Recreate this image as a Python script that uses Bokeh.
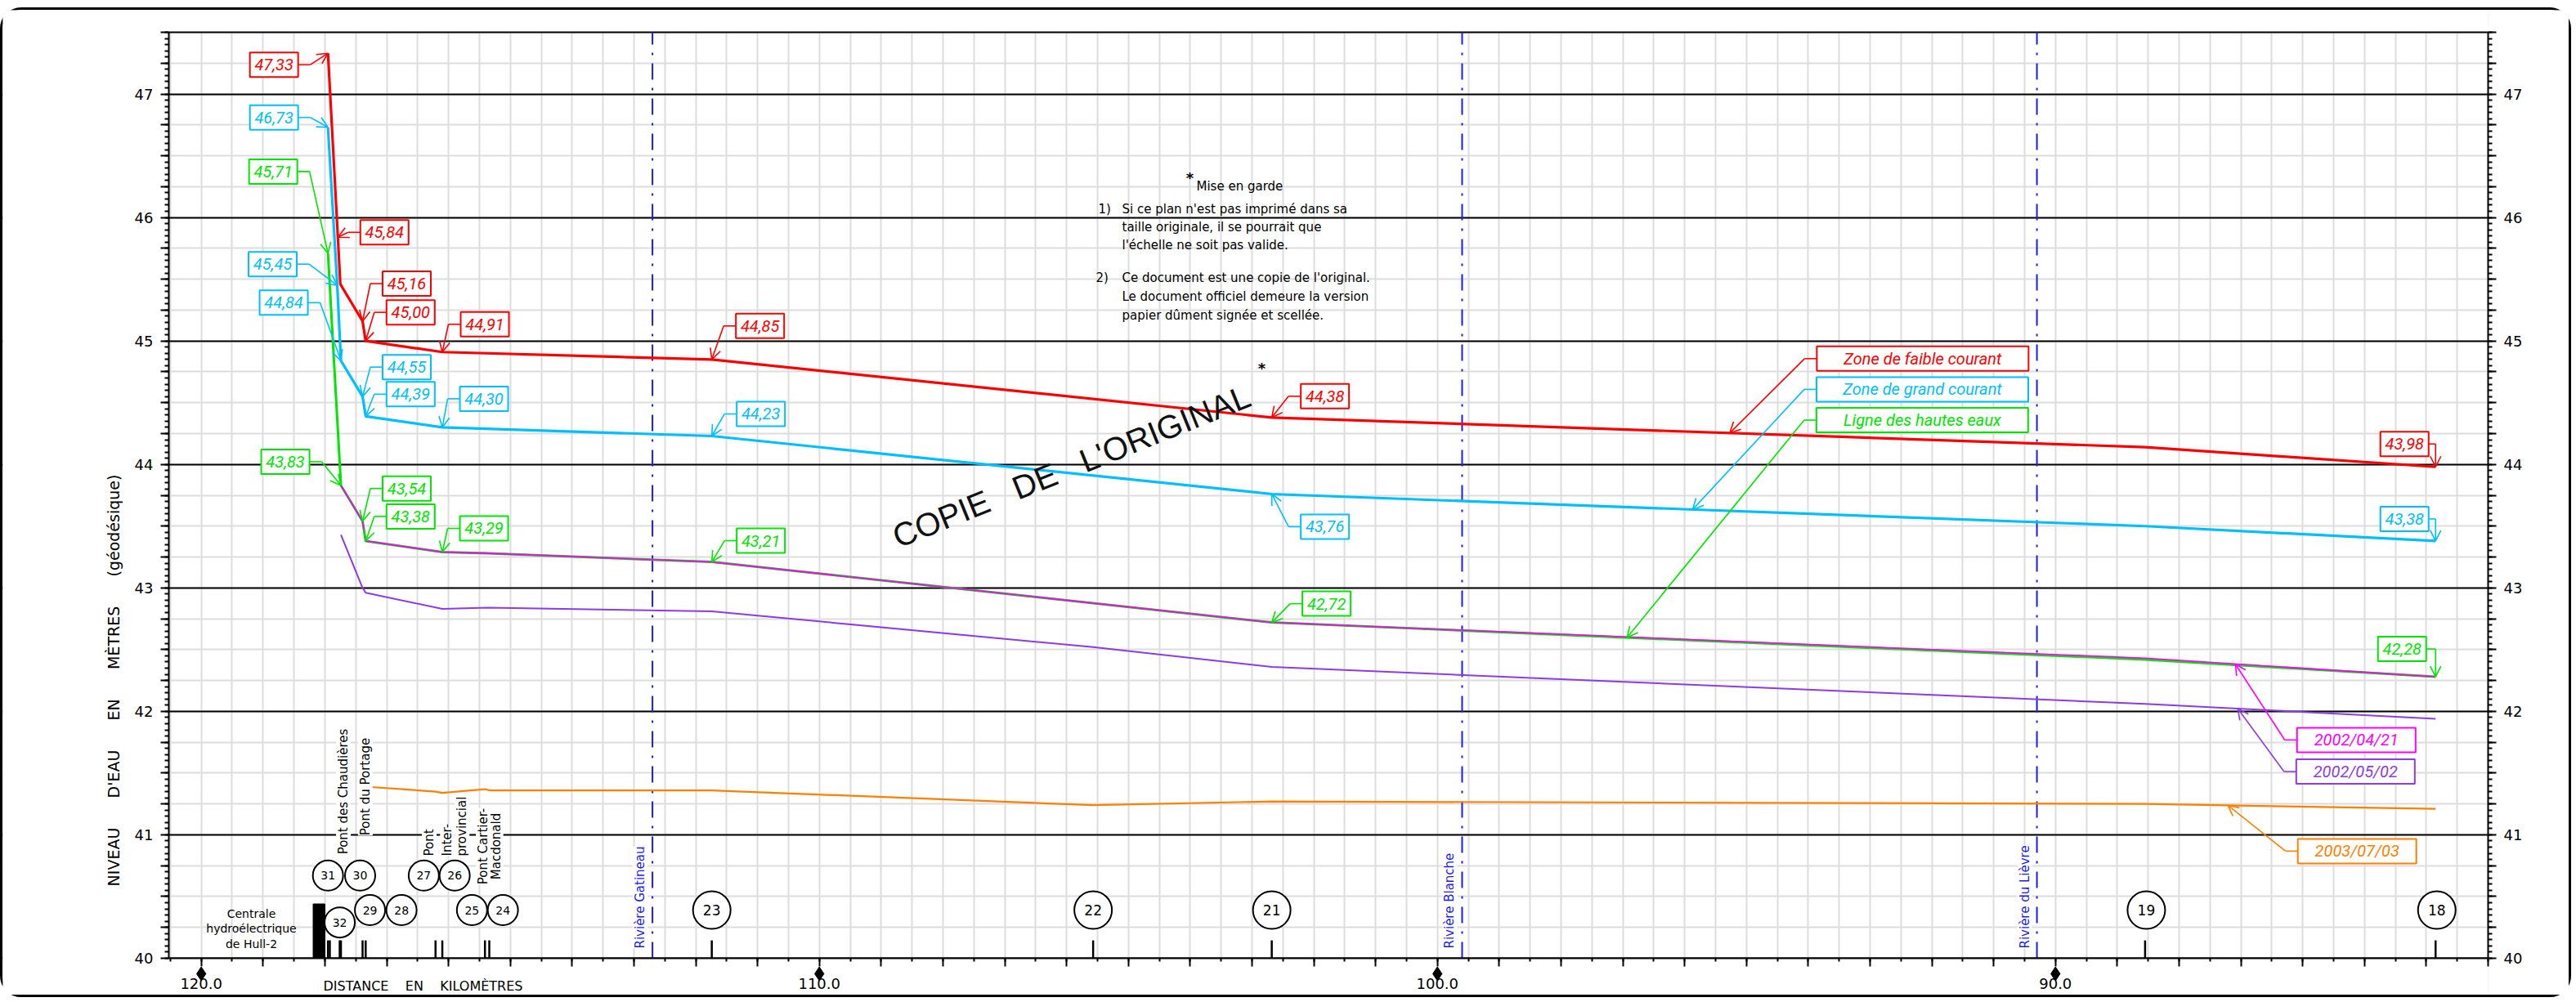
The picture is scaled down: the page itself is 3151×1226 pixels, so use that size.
import math
import numpy as np
from bokeh.plotting import figure
from bokeh.models import (Range1d, LinearAxis, SingleIntervalTicker, CustomJSTickFormatter,
                          ColumnDataSource, Arrow, OpenHead)
from bokeh.core.properties import value
from bokeh.embed import file_html
from bokeh.resources import INLINE

# ---------------- DATA ----------------
# chainage (km) and water level (m, geodetic)
red_km = [117.95, 117.79, 117.75, 117.39, 117.34, 116.10, 111.74, 102.68, 88.55, 83.85]
red_lvl = [47.33, 45.84, 45.46, 45.16, 45.00, 44.91, 44.85, 44.38, 44.14, 43.98]
blue_km = [117.95, 117.80, 117.74, 117.39, 117.34, 116.10, 111.74, 102.68, 88.55, 83.85]
blue_lvl = [46.73, 45.45, 44.84, 44.55, 44.39, 44.30, 44.23, 43.76, 43.50, 43.38]
green_km = [117.95, 117.74, 117.39, 117.34, 116.10, 115.36, 111.74, 102.68, 88.55, 83.85]
green_lvl = [45.71, 43.83, 43.54, 43.38, 43.29, 43.28, 43.21, 42.72, 42.42, 42.28]
mag_km = [117.74, 117.39, 117.34, 116.10, 115.36, 111.74, 102.68, 88.55, 83.85]
mag_lvl = [43.83, 43.54, 43.38, 43.29, 43.28, 43.21, 42.72, 42.43, 42.28]
pur_km = [117.74, 117.39, 117.34, 116.10, 115.36, 111.74, 105.57, 102.68, 88.55, 83.85]
pur_lvl = [43.43, 43.00, 42.96, 42.83, 42.84, 42.81, 42.52, 42.36, 42.06, 41.94]
ora_km = [117.34, 116.21, 116.10, 115.41, 115.34, 111.74, 105.57, 102.68, 88.55, 83.85]
ora_lvl = [41.39, 41.35, 41.34, 41.37, 41.36, 41.36, 41.24, 41.27, 41.25, 41.21]

station_tick_km = [117.95, 117.92, 117.76, 117.74, 117.39, 117.34, 116.21, 116.10,
                   115.41, 115.34, 111.74, 105.57, 102.68, 88.55, 83.85]
circle_ids = ["31", "30", "27", "26", "32", "29", "28", "25", "24", "23", "22", "21", "19", "18"]
circle_km = [117.95, 117.43, 116.40, 115.90, 117.76, 117.27, 116.76, 115.62, 115.12,
             111.74, 105.57, 102.68, 88.53, 83.83]
circle_lvl = [40.67, 40.67, 40.67, 40.67, 40.29, 40.39, 40.39, 40.39, 40.39,
              40.39, 40.39, 40.39, 40.39, 40.39]
centrale_km = [118.19, 118.00]
centrale_top = 40.44
river_names = ["Rivière Gatineau", "Rivière Blanche", "Rivière du Lièvre"]
river_km = [112.70, 99.60, 90.30]
km_labels = [120, 110, 100, 90]

# ---------------- LAYOUT ----------------
X0, X1 = 120.525, 83.0          # chart extent (km)
Y0, Y1 = 40.0, 47.5             # chart extent (m)
REF_L, REF_R, REF_T, REF_B = 206, 3043, 39, 1172   # chart box in page pixels
ORGX, ORGY = 3, 12              # canvas origin on the page
W, H = 3145, 1211
PXKM = (X1 - X0) / (REF_R - REF_L)
PXLV = (Y1 - Y0) / (REF_B - REF_T)
NB = "\u00a0"


def px2km(px):
    return X0 + (px - REF_L) * PXKM


def py2lvl(py):
    return Y1 - (py - REF_T) * PXLV


def off(k, l, dx, dy):
    return k + dx * PXKM, l - dy * PXLV


def sp(s, n):
    return s.replace(" ", NB * n)


XL, XR = px2km(ORGX), px2km(ORGX + W)
YT, YB = py2lvl(ORGY), py2lvl(ORGY + H)

RED, BLUE, GREEN, MAG, PUR, ORA = "#ff0000", "#00bfff", "#00e600", "#ff00ff", "#8c3ce6", "#ff8000"
RIVER = "#1a1aff"
FONT = "DejaVu Sans"
IFONT = "Roboto"

series = {
    "red": (red_km, red_lvl, RED, 3.2),
    "blue": (blue_km, blue_lvl, BLUE, 3.2),
    "green": (green_km, green_lvl, GREEN, 3.0),
    "mag": (mag_km, mag_lvl, MAG, 1.8),
    "pur": (pur_km, pur_lvl, PUR, 2.0),
    "ora": (ora_km, ora_lvl, ORA, 2.2),
}

p = figure(width=W, height=H, x_range=Range1d(XL, XR), y_range=Range1d(YB, YT),
           output_backend="svg", toolbar_location=None, min_border=0,
           background_fill_color="white", border_fill_color="white",
           styles={"border": "3px solid black", "border-radius": "26px", "margin-top": "9px"})
p.outline_line_color = None

# grids
p.xgrid.ticker = SingleIntervalTicker(interval=0.5, num_minor_ticks=0)
p.xgrid.grid_line_color = "#dddddd"
p.xgrid.grid_line_width = 2
p.ygrid.ticker = SingleIntervalTicker(interval=1, num_minor_ticks=4)
p.ygrid.grid_line_color = "black"
p.ygrid.grid_line_width = 2
p.ygrid.minor_grid_line_color = "#dddddd"
p.ygrid.minor_grid_line_width = 2

# axes (placed at fixed data locations around the chart box)
xa = p.xaxis[0]
xa.fixed_location = Y0
xa.bounds = (X1, X0)
xa.ticker = SingleIntervalTicker(interval=1, num_minor_ticks=2)
xa.formatter = CustomJSTickFormatter(code="""
var r = Math.round(tick);
return (Math.abs(tick - r) < 1e-6 && r % 10 == 0) ? r.toFixed(1) : '';
""")
xa.major_tick_out = 10
xa.major_tick_in = 0
xa.minor_tick_out = 4
xa.minor_tick_in = 0
xa.major_label_standoff = 14
xa.major_label_text_font = FONT
xa.major_label_text_font_size = "18px"
xa.major_label_text_color = "black"

ya_ticker = SingleIntervalTicker(interval=0.25, num_minor_ticks=5)
ya_fmt = CustomJSTickFormatter(code="""
var r = Math.round(tick);
return (Math.abs(tick - r) < 1e-6) ? r.toFixed(0) : '';
""")
p.yaxis[0].fixed_location = X0
p.add_layout(LinearAxis(fixed_location=X1), "right")
for ax in [xa] + list(p.yaxis):
    ax.axis_line_color = "black"
    ax.axis_line_width = 2
    ax.major_tick_line_color = "black"
    ax.minor_tick_line_color = "black"
    ax.major_tick_line_width = 2
    ax.minor_tick_line_width = 2
for ax in p.yaxis:
    ax.bounds = (Y0, Y1)
    ax.ticker = ya_ticker
    ax.formatter = ya_fmt
    ax.major_tick_out = 10
    ax.major_tick_in = 0
    ax.minor_tick_out = 5
    ax.minor_tick_in = 0
    ax.major_label_standoff = 9
    ax.major_label_text_font = FONT
    ax.major_label_text_font_size = "18px"
    ax.major_label_text_color = "black"

# white margins around the chart box (hide grid outside)
p.quad(left=[XL, X1, X0, X0], right=[X0, XR, X1, X1],
       bottom=[YB, YB, YB, Y1 + 0.003], top=[YT, YT, Y0 - 0.003, YT],
       fill_color="white", line_color=None)
p.segment(x0=[X0], y0=[Y1], x1=[X1], y1=[Y1], line_color="black", line_width=2)

# axis titles and km diamonds
p.text(x=[px2km(138)], y=[py2lvl(832)],
       text=[sp("NIVEAU D'EAU EN MÈTRES (géodésique)", 6)],
       angle=math.pi / 2, text_align="center", text_baseline="middle",
       text_font=value(FONT), text_font_size="19px", text_color="black")
p.text(x=[px2km(517)], y=[py2lvl(1206)], text=[sp("DISTANCE EN KILOMÈTRES", 4)],
       text_align="center", text_baseline="middle",
       text_font=value(FONT), text_font_size="16px", text_color="black")
p.scatter(x=km_labels, y=[py2lvl(1191)] * len(km_labels), marker="diamond", size=17,
          fill_color="black", line_color="black")

# river markers
p.segment(x0=river_km, y0=[Y0] * 3, x1=river_km, y1=[Y1] * 3, line_color=RIVER,
          line_width=2, line_dash="20 10 3 10")
rk = [off(k, Y0, -15, 0)[0] for k in river_km]
p.text(x=rk, y=[py2lvl(1160)] * 3, text=river_names, angle=math.pi / 2,
       text_align="left", text_baseline="middle", text_font=value(FONT),
       text_font_size="15px", text_color=RIVER, background_fill_color="white")

# water level lines
for name in ["ora", "pur", "green", "mag", "blue", "red"]:
    k, l, c, w = series[name]
    p.line(k, l, line_color=c, line_width=w)

# stations
p.segment(x0=station_tick_km, y0=[Y0] * len(station_tick_km), x1=station_tick_km,
          y1=[40.145] * len(station_tick_km), line_color="black", line_width=2.5)
p.quad(left=[centrale_km[0]], right=[centrale_km[1]], bottom=[Y0], top=[centrale_top],
       fill_color="black", line_color="black")
sizes = [37] * 9 + [46] * 5
p.scatter(x=circle_km, y=circle_lvl, size=sizes, marker="circle", fill_color="white",
          line_color="black", line_width=2)
p.text(x=circle_km[:9], y=circle_lvl[:9], text=circle_ids[:9], text_align="center",
       text_baseline="middle", text_font=value(FONT), text_font_size="14px", text_color="black")
p.text(x=circle_km[9:], y=circle_lvl[9:], text=circle_ids[9:], text_align="center",
       text_baseline="middle", text_font=value(FONT), text_font_size="17px", text_color="black")

# Centrale text
p.text(x=[px2km(307)] * 3, y=[py2lvl(1117), py2lvl(1135.5), py2lvl(1154)],
       text=["Centrale", "hydroélectrique", "de Hull-2"], text_align="center",
       text_baseline="middle", text_font=value(FONT), text_font_size="14px", text_color="black")

# bridge labels
br_c = [(419.6, 968, "Pont des Chaudières"), (446.4, 962, "Pont du Portage"),
        (590.6, 1035, "Pont Cartier-"), (606.2, 1035, "Macdonald")]
p.text(x=[px2km(a) for a, b, t in br_c], y=[py2lvl(b) for a, b, t in br_c],
       text=[t for a, b, t in br_c], angle=math.pi / 2, text_align="center",
       text_baseline="middle", text_font=value(FONT), text_font_size="15px",
       text_color="black", background_fill_color="white")
br_l = [(524.5, 1047, "Pont"), (546.8, 1047, "Inter-"), (564.7, 1047, "provincial")]
p.text(x=[px2km(a) for a, b, t in br_l], y=[py2lvl(b) for a, b, t in br_l],
       text=[t for a, b, t in br_l], angle=math.pi / 2, text_align="left",
       text_baseline="middle", text_font=value(FONT), text_font_size="15px",
       text_color="black", background_fill_color="white")

# warning note
notes = [(1463, 227, "Mise en garde"), (1343, 255, "1)"),
         (1372, 255, "Si ce plan n'est pas imprimé dans sa"),
         (1372, 277, "taille originale, il se pourrait que"),
         (1372, 299, "l'échelle ne soit pas valide."),
         (1340, 339, "2)"),
         (1372, 339, "Ce document est une copie de l'original."),
         (1372, 362, "Le document officiel demeure la version"),
         (1372, 385, "papier dûment signée et scellée.")]
p.text(x=[px2km(a) for a, b, t in notes], y=[py2lvl(b) for a, b, t in notes],
       text=[t for a, b, t in notes], text_align="left", text_baseline="middle",
       text_font=value(FONT), text_font_size="15px", text_color="black")
p.text(x=[px2km(1455), px2km(1543)], y=[py2lvl(217), py2lvl(450)], text=["*", "*"],
       text_align="center", text_baseline="middle", text_font=value(FONT),
       text_font_size="18px", text_font_style="bold", text_color="black")
p.text(x=[px2km(1310)], y=[py2lvl(570)], text=[sp("COPIE DE L'ORIGINAL", 3)], angle=0.384,
       text_align="center", text_baseline="middle", text_font=value("Liberation Sans"),
       text_font_size="40px", text_color="#111111")

# ---------------- annotations (value boxes, legend boxes) ----------------
rows = []


def add_box(name, tk, tl, txt, dx, dy, w):
    c = series[name][2]
    bk, bl = off(tk, tl, dx, dy)
    if dx < 0:
        edge, elb = w / 2, min(w / 2 + 15, -dx)
    else:
        edge, elb = -w / 2, max(-w / 2 - 15, -dx)
    ek = off(bk, bl, edge, 0)[0]
    lk = off(bk, bl, elb, 0)[0]
    rows.append((c, txt, bk, bl, w, ek, lk, tk, tl))


val_labels = [
    ("red", 0, -66, 14), ("red", 1, 57, -6), ("red", 3, 54, -46), ("red", 4, 55, -35),
    ("red", 5, 52, -34), ("red", 6, 59, -41), ("red", 7, 65, -26), ("red", 9, -38, -28),
    ("blue", 0, -66, -12), ("blue", 1, -79, -26), ("blue", 2, -70, -71), ("blue", 3, 54, -36),
    ("blue", 4, 55, -27), ("blue", 5, 51, -35), ("blue", 6, 60, -27), ("blue", 7, 65, 40),
    ("blue", 9, -38, -27),
    ("green", 0, -67, -100), ("green", 1, -68, -29), ("green", 2, 54, -40), ("green", 3, 55, -30),
    ("green", 4, 51, -29), ("green", 6, 60, -26), ("green", 7, 67, -23), ("green", 9, -41, -34),
]
for name, i, dx, dy in val_labels:
    k, l = series[name][0][i], series[name][1][i]
    add_box(name, k, l, f"{l:.2f}".replace(".", ","), dx, dy, 59)

leg_labels = [
    ("red", 95.27, "Zone de faible courant", 236, -91, 259),
    ("blue", 95.87, "Zone de grand courant", 281, -147, 259),
    ("green", 96.93, "Ligne des hautes eaux", 361, -266, 259),
    ("mag", 87.09, "2002/04/21", 148, 93, 145),
    ("pur", 87.05, "2002/05/02", 144, 77, 145),
    ("ora", 87.21, "2003/07/03", 158, 56, 145),
]
for name, km, txt, dx, dy, w in leg_labels:
    k, l = series[name][0], series[name][1]
    lvl = float(np.interp(km, k[::-1], l[::-1]))
    add_box(name, km, lvl, txt, dx, dy, w)

for c in [RED, BLUE, GREEN, MAG, PUR, ORA]:
    rr = [r for r in rows if r[0] == c]
    if not rr:
        continue
    src = ColumnDataSource(dict(
        t=[r[1] for r in rr], bx=[r[2] for r in rr], by=[r[3] for r in rr],
        w=[r[4] for r in rr], ex=[r[5] for r in rr], lx=[r[6] for r in rr],
        tx=[r[7] for r in rr], ty=[r[8] for r in rr]))
    p.segment(x0="ex", y0="by", x1="lx", y1="by", source=src, line_color=c, line_width=1.6)
    p.add_layout(Arrow(end=OpenHead(size=13, line_color=c, line_width=1.6),
                       x_start="lx", y_start="by", x_end="tx", y_end="ty",
                       source=src, line_color=c, line_width=1.6))
    p.rect(x="bx", y="by", width="w", height=30, width_units="screen", height_units="screen",
           source=src, fill_color="white", line_color=c, line_width=2)
    p.text(x="bx", y="by", text="t", source=src, text_align="center", text_baseline="middle",
           text_font=value(IFONT), text_font_style="italic", text_font_size="20px", text_color=c)

open("out.html", "w").write(file_html(p, INLINE))
